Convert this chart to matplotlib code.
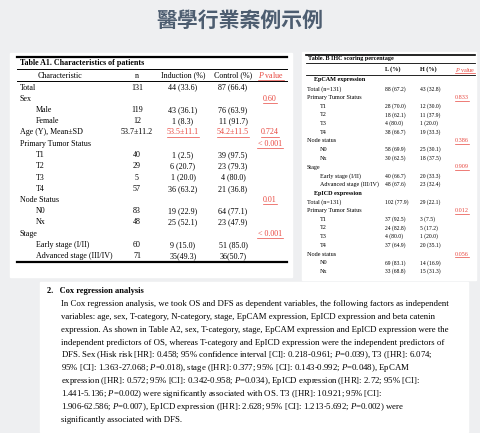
import matplotlib
matplotlib.use("Agg")
import matplotlib.pyplot as plt
from matplotlib.patches import Rectangle

W, H = 480, 433
fig = plt.figure(figsize=(4.8, 4.33), dpi=100)
fig.patch.set_facecolor("#eeeff1")
ax = fig.add_axes([0, 0, 1, 1])
ax.set_xlim(0, W); ax.set_ylim(H, 0); ax.axis("off")

SERIF = "Liberation Serif"
RED = "#e8473f"

title = "醫學行業案例示例"

# Table A1
a1_labels = ["Total", "Sex", "Male", "Female", "Age (Y), Mean±SD", "Primary Tumor Status",
             "T1", "T2", "T3", "T4", "Node Status", "N0", "Nx", "Stage",
             "Early stage (I/II)", "Advanced stage (III/IV)"]
a1_indent = [0, 0, 1, 1, 0, 0, 1, 1, 1, 1, 0, 1, 1, 0, 1, 1]
a1_n = ["131", "", "119", "12", "53.7±11.2", "", "40", "29", "5", "57", "", "83", "48", "", "60", "71"]
a1_ind = ["44 (33.6)", "", "43 (36.1)", "1 (8.3)", "53.5±11.1", "", "1 (2.5)", "6 (20.7)", "1 (20.0)",
          "36 (63.2)", "", "19 (22.9)", "25 (52.1)", "", "9 (15.0)", "35(49.3)"]
a1_ctl = ["87 (66.4)", "", "76 (63.9)", "11 (91.7)", "54.2±11.5", "", "39 (97.5)", "23 (79.3)", "4 (80.0)",
          "21 (36.8)", "", "64 (77.1)", "23 (47.9)", "", "51 (85.0)", "36(50.7)"]
a1_p = ["", "0.60", "", "", "0.724", "< 0.001", "", "", "", "", "0.01", "", "", "< 0.001", "", ""]

# Table B
b_labels = ["EpCAM expression", "Total (n=131)", "Primary Tumor Status", "T1", "T2", "T3", "T4",
            "Node status", "N0", "Nx", "Stage", "Early stage (I/II)", "Advanced stage (III/IV)",
            "EpICD expression", "Total (n=131)", "Primary Tumor Status", "T1", "T2", "T3", "T4",
            "Node status", "N0", "Nx"]
b_indent = [0.5, 0, 0, 1, 1, 1, 1, 0, 1, 1, 0, 1, 1, 0.5, 0, 0, 1, 1, 1, 1, 0, 1, 1]
b_L = ["", "88 (67.2)", "", "28 (70.0)", "18 (62.1)", "4 (80.0)", "38 (66.7)", "", "58 (69.9)", "30 (62.5)",
       "", "40 (66.7)", "48 (67.6)", "", "102 (77.9)", "", "37 (92.5)", "24 (82.8)", "4 (80.0)", "37 (64.9)",
       "", "69 (83.1)", "33 (68.8)"]
b_H = ["", "43 (32.8)", "", "12 (30.0)", "11 (37.9)", "1 (20.0)", "19 (33.3)", "", "25 (30.1)", "18 (37.5)",
       "", "20 (33.3)", "23 (32.4)", "", "29 (22.1)", "", "3 (7.5)", "5 (17.2)", "1 (20.0)", "20 (35.1)",
       "", "14 (16.9)", "15 (31.3)"]
b_p = ["", "", "0.833", "", "", "", "", "0.386", "", "", "0.909", "", "", "", "", "0.012", "", "", "", "",
       "0.056", "", ""]

para_head = "2.   Cox regression analysis"
para_lines = [
    "In Cox regression analysis, we took OS and DFS as dependent variables, the following factors as independent",
    "variables: age, sex, T-category, N-category, stage, EpCAM expression, EpICD expression and beta catenin",
    "expression. As shown in Table A2, sex, T-category, stage, EpCAM expression and EpICD expression were the",
    "independent predictors of OS, whereas T-category and EpICD expression were the independent predictors of",
    "DFS. Sex (Hisk risk [HR]: 0.458; 95% confidence interval [CI]: 0.218-0.961; $P$=0.039), T3 ([HR]: 6.074;",
    "95% [CI]: 1.363-27.068; $P$=0.018), stage ([HR]: 0.377; 95% [CI]: 0.143-0.992; $P$=0.048), EpCAM",
    "expression ([HR]: 0.572; 95% [CI]: 0.342-0.958; $P$=0.034), EpICD expression ([HR]: 2.72; 95% [CI]:",
    "1.441-5.136; $P$=0.002) were significantly associated with OS. T3 ([HR]: 10.921; 95% [CI]:",
    "1.906-62.586; $P$=0.007), EpICD expression ([HR]: 2.628; 95% [CI]: 1.213-5.692; $P$=0.002) were",
    "significantly associated with DFS.",
]

plt.rcParams["mathtext.fontset"] = "custom"
plt.rcParams["mathtext.it"] = "Liberation Serif:italic"

ax.text(240, 20, title, ha="center", va="center", fontsize=15, fontweight="bold",
        family=["Noto Sans CJK TC", "DejaVu Sans"], color="#4d5d70")

def T(x, y, s, size, ha="left", color="black", weight="normal"):
    return ax.text(x, y, s, ha=ha, va="center", fontsize=size, family=SERIF, color=color, fontweight=weight)

def underline(xc, y, s, size, ha="center"):
    w = len(s) * size * 0.62
    x0 = xc - w / 2 if ha == "center" else xc
    ax.plot([x0, x0 + w], [y + size * 0.75, y + size * 0.75], color=RED, lw=0.5)

# Left table
ax.add_patch(Rectangle((10, 53), 282, 224, color="white", zorder=0))
ax.plot([17, 287], [57, 57], color="black", lw=1.6)
T(20, 63, "Table A1. Characteristics of patients", 5.8, weight="bold")
ax.plot([17, 287], [69, 69], color="black", lw=0.7)
hy = 75.5
T(60, hy, "Characteristic", 5.8, ha="center")
T(137, hy, "n", 5.8, ha="center")
T(183, hy, "Induction (%)", 5.8, ha="center")
T(233, hy, "Control (%)", 5.8, ha="center")
T(271, hy, "$P$ value", 5.8, ha="center", color=RED); underline(271, hy, "P value", 5.8)
ax.plot([17, 287], [81, 81], color="black", lw=0.7)
for i, lab in enumerate(a1_labels):
    y = 87.5 + i * 11.25
    T(20 + 16 * a1_indent[i], y, lab, 5.8)
    T(137, y, a1_n[i], 5.8, ha="center")
    red = i == 4
    T(183, y, a1_ind[i], 5.8, ha="center", color=RED if red else "black")
    T(233, y, a1_ctl[i], 5.8, ha="center", color=RED if red else "black")
    if red:
        underline(183, y, a1_ind[i], 5.8); underline(233, y, a1_ctl[i], 5.8)
    if a1_p[i]:
        T(270, y, a1_p[i], 5.8, ha="center", color=RED); underline(270, y, a1_p[i], 5.8)
ax.plot([17, 287], [262, 262], color="black", lw=1.6)

# Right table
ax.add_patch(Rectangle((302, 52), 174, 228, color="white", zorder=0))
ax.plot([306, 475], [55, 55], color="black", lw=1.2)
T(308, 58.5, "Table. B IHC scoring percentage", 4.4, weight="bold")
ax.plot([306, 475], [63, 63], color="black", lw=0.6)
hy = 69.5
T(385, hy, "L (%)", 4.4, weight="bold")
T(420, hy, "H (%)", 4.4, weight="bold")
T(465, hy, "$P$ value", 4.4, ha="center", color=RED); underline(465, hy, "P value", 4.4)
ax.plot([306, 475], [74.5, 74.5], color="black", lw=0.6)
for i, lab in enumerate(b_labels):
    y = 80 + i * 8.7
    bold = b_indent[i] == 0.5
    T(307 + 13 * b_indent[i], y, lab, 4.4, weight="bold" if bold else "normal")
    T(385, y, b_L[i], 4.1)
    T(420, y, b_H[i], 4.1)
    if b_p[i]:
        T(462, y, b_p[i], 4.4, ha="center", color=RED); underline(462, y, b_p[i], 4.4)

# Paragraph
ax.add_patch(Rectangle((40, 282), 428, 150, color="white", zorder=0))
T(47, 291, para_head, 6.0, weight="bold")
for i, line in enumerate(para_lines):
    T(61, 304 + i * 12.9, line, 6.3)

fig.savefig("out.png", dpi=100, facecolor=fig.get_facecolor())
